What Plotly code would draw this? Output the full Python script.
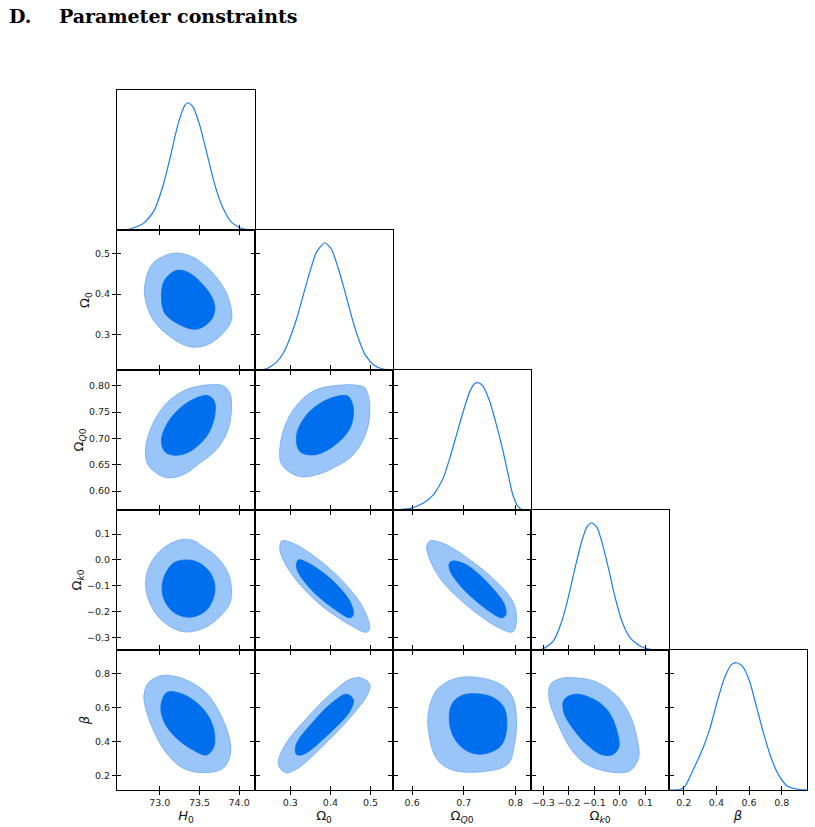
import plotly.graph_objects as go

W, H = 815, 827

# ---------------- parameters / axes ----------------
params = ["H0", "Om0", "OmQ0", "Omk0", "beta"]
axis_titles = {
    "H0": "<i>H</i><sub>0</sub>",
    "Om0": "Ω<sub>0</sub>",
    "OmQ0": "Ω<sub><i>Q</i>0</sub>",
    "Omk0": "Ω<sub><i>k</i>0</sub>",
    "beta": "<i>β</i>",
}
x_ranges = {"H0": [72.46, 74.2], "Om0": [0.212, 0.556], "OmQ0": [0.563, 0.830],
            "Omk0": [-0.348, 0.193], "beta": [0.110, 0.955]}
y_ranges = {"Om0": [0.214, 0.557], "OmQ0": [0.564, 0.830],
            "Omk0": [-0.3475, 0.1927], "beta": [0.116, 0.939]}

x_tickvals = {"H0": [73.0, 73.5, 74.0], "Om0": [0.3, 0.4, 0.5], "OmQ0": [0.6, 0.7, 0.8],
              "Omk0": [-0.3, -0.2, -0.1, 0.0, 0.1], "beta": [0.2, 0.4, 0.6, 0.8]}
x_ticktext = {"H0": ["73.0", "73.5", "74.0"], "Om0": ["0.3", "0.4", "0.5"],
              "OmQ0": ["0.6", "0.7", "0.8"],
              "Omk0": ["\u22120.3", "\u22120.2", "\u22120.1", "0.0", "0.1"],
              "beta": ["0.2", "0.4", "0.6", "0.8"]}
y_tickvals = {"Om0": [0.3, 0.4, 0.5], "OmQ0": [0.60, 0.65, 0.70, 0.75, 0.80],
              "Omk0": [-0.3, -0.2, -0.1, 0.0, 0.1], "beta": [0.2, 0.4, 0.6, 0.8]}
y_ticktext = {"Om0": ["0.3", "0.4", "0.5"], "OmQ0": ["0.60", "0.65", "0.70", "0.75", "0.80"],
              "Omk0": ["\u22120.3", "\u22120.2", "\u22120.1", "0.0", "0.1"],
              "beta": ["0.2", "0.4", "0.6", "0.8"]}

# ---------------- 1D marginals (normalised to peak 1) ----------------
H0_grid = [72.458, 72.626, 72.794, 72.920, 73.042, 73.147, 73.231, 73.315, 73.357, 73.420,
           73.504, 73.589, 73.694, 73.798, 73.904, 74.030, 74.177]
H0_pdf = [0, 0.008, 0.052, 0.144, 0.352, 0.614, 0.836, 0.979, 1.0, 0.966, 0.822, 0.614,
          0.352, 0.170, 0.060, 0.012, 0.001]
Om0_grid = [0.212, 0.241, 0.266, 0.283, 0.299, 0.316, 0.332, 0.349, 0.366, 0.386, 0.403,
            0.419, 0.436, 0.453, 0.469, 0.486, 0.507, 0.531, 0.556]
Om0_pdf = [0.001, 0.010, 0.062, 0.135, 0.25, 0.405, 0.585, 0.775, 0.93, 1, 0.947, 0.803, 0.618,
           0.418, 0.255, 0.123, 0.042, 0.008, 0.001]
OmQ0_grid = [0.563, 0.596, 0.621, 0.641, 0.660, 0.673, 0.686, 0.699, 0.712, 0.721, 0.728,
             0.737, 0.750, 0.763, 0.776, 0.786, 0.795, 0.805, 0.815, 0.831]
OmQ0_pdf = [0, 0.013, 0.053, 0.118, 0.25, 0.408, 0.592, 0.776, 0.934, 0.992, 1, 0.974,
            0.855, 0.671, 0.461, 0.276, 0.118, 0.026, 0, 0]
Omk0_grid = [-0.345, -0.300, -0.260, -0.227, -0.202, -0.175, -0.149, -0.129, -0.110, -0.090,
             -0.071, -0.045, -0.018, 0.008, 0.040, 0.080, 0.119, 0.193]
Omk0_pdf = [0, 0.010, 0.071, 0.228, 0.411, 0.647, 0.856, 0.966, 1, 0.966, 0.856, 0.647,
            0.411, 0.228, 0.097, 0.031, 0.005, 0]
beta_grid = [0.110, 0.176, 0.209, 0.264, 0.319, 0.362, 0.406, 0.450, 0.494, 0.523, 0.559,
             0.603, 0.647, 0.691, 0.735, 0.779, 0.834, 0.900, 0.955]
beta_pdf = [0, 0.003, 0.031, 0.175, 0.332, 0.490, 0.699, 0.882, 0.987, 1, 0.974, 0.856,
            0.647, 0.437, 0.254, 0.123, 0.031, 0.005, 0]

# ---------------- 2D contours (68% inner, 95% outer), (x, y) in data units ----------------
H0_Om0_outer = [(73.168, 0.500), (72.916, 0.476), (72.823, 0.435), (72.811, 0.394), (72.916, 0.337),
                (73.126, 0.296), (73.378, 0.271), (73.589, 0.275), (73.798, 0.304), (73.904, 0.337),
                (73.883, 0.378), (73.798, 0.418), (73.589, 0.467), (73.378, 0.494)]
H0_Om0_inner = [(73.211, 0.458), (73.063, 0.435), (73.021, 0.398), (73.063, 0.353), (73.252, 0.325),
                (73.463, 0.314), (73.631, 0.333), (73.694, 0.361), (73.652, 0.394), (73.504, 0.431),
                (73.357, 0.453)]
H0_OmQ0_outer = [(73.631, 0.802), (73.337, 0.793), (73.084, 0.767), (72.916, 0.729), (72.823, 0.685),
                 (72.840, 0.653), (72.958, 0.634), (73.105, 0.625), (73.294, 0.631), (73.504, 0.653),
                 (73.715, 0.679), (73.861, 0.717), (73.904, 0.761), (73.883, 0.786), (73.798, 0.800)]
H0_OmQ0_inner = [(73.546, 0.781), (73.337, 0.767), (73.126, 0.736), (73.021, 0.698), (73.063, 0.675),
                 (73.189, 0.668), (73.378, 0.675), (73.589, 0.704), (73.681, 0.736), (73.694, 0.767),
                 (73.631, 0.780)]
H0_Omk0_outer = [(73.252, 0.077), (73.042, 0.045), (72.874, -0.019), (72.820, -0.090), (72.874, -0.167),
                 (73.042, -0.238), (73.294, -0.277), (73.546, -0.264), (73.757, -0.219), (73.883, -0.167),
                 (73.904, -0.116), (73.861, -0.051), (73.715, 0.013), (73.546, 0.051), (73.420, 0.075)]
H0_Omk0_inner = [(73.337, 0.000), (73.168, -0.013), (73.042, -0.077), (73.042, -0.142), (73.168, -0.200),
                 (73.378, -0.221), (73.589, -0.193), (73.694, -0.122), (73.652, -0.058), (73.504, -0.013)]
H0_beta_outer = [(73.000, 0.786), (72.852, 0.744), (72.798, 0.665), (72.840, 0.567), (72.937, 0.449),
                 (73.084, 0.332), (73.294, 0.244), (73.546, 0.218), (73.798, 0.244), (73.892, 0.332),
                 (73.861, 0.449), (73.757, 0.567), (73.589, 0.685), (73.378, 0.753), (73.168, 0.786)]
H0_beta_inner = [(73.084, 0.688), (73.013, 0.606), (73.063, 0.508), (73.211, 0.420), (73.420, 0.351),
                 (73.589, 0.322), (73.681, 0.371), (73.681, 0.469), (73.589, 0.567), (73.420, 0.645),
                 (73.231, 0.688)]
Om0_OmQ0_outer = [(0.440, 0.802), (0.366, 0.793), (0.324, 0.770), (0.291, 0.732), (0.274, 0.682),
                  (0.279, 0.650), (0.320, 0.628), (0.366, 0.631), (0.415, 0.647), (0.457, 0.669),
                  (0.490, 0.713), (0.498, 0.764), (0.486, 0.796), (0.465, 0.801)]
Om0_OmQ0_inner = [(0.424, 0.781), (0.382, 0.770), (0.341, 0.745), (0.316, 0.707), (0.324, 0.675),
                  (0.361, 0.669), (0.407, 0.685), (0.449, 0.720), (0.457, 0.758), (0.444, 0.780)]
Om0_Omk0_outer = [(0.279, 0.073), (0.307, 0.064), (0.366, 0.007), (0.432, -0.084), (0.482, -0.186),
                  (0.498, -0.264), (0.490, -0.279), (0.449, -0.251), (0.366, -0.161), (0.299, -0.045),
                  (0.274, 0.039)]
Om0_Omk0_inner = [(0.320, 0.000), (0.341, -0.009), (0.399, -0.071), (0.449, -0.161), (0.457, -0.212),
                  (0.449, -0.223), (0.407, -0.186), (0.349, -0.109), (0.316, -0.032)]
OmQ0_Omk0_outer = [(0.634, 0.073), (0.660, 0.064), (0.712, 0.000), (0.763, -0.084), (0.795, -0.161),
                   (0.802, -0.225), (0.795, -0.277), (0.770, -0.264), (0.705, -0.174), (0.654, -0.071),
                   (0.631, 0.019), (0.628, 0.051)]
OmQ0_Omk0_inner = [(0.679, -0.004), (0.705, -0.019), (0.750, -0.097), (0.779, -0.174), (0.781, -0.212),
                   (0.773, -0.223), (0.737, -0.180), (0.692, -0.097), (0.673, -0.039), (0.672, -0.013)]
Om0_beta_outer = [(0.475, 0.776), (0.498, 0.738), (0.493, 0.679), (0.449, 0.541), (0.377, 0.365),
                  (0.315, 0.238), (0.288, 0.218), (0.270, 0.267), (0.288, 0.385), (0.342, 0.541),
                  (0.404, 0.688), (0.449, 0.767)]
Om0_beta_inner = [(0.440, 0.679), (0.457, 0.649), (0.449, 0.581), (0.395, 0.444), (0.333, 0.326),
                  (0.315, 0.326), (0.315, 0.385), (0.359, 0.522), (0.404, 0.629)]
OmQ0_beta_outer = [(0.715, 0.781), (0.771, 0.738), (0.795, 0.659), (0.802, 0.522), (0.798, 0.385),
                   (0.785, 0.267), (0.729, 0.222), (0.674, 0.238), (0.646, 0.306), (0.631, 0.482),
                   (0.632, 0.581), (0.646, 0.698), (0.674, 0.761)]
OmQ0_beta_inner = [(0.722, 0.682), (0.757, 0.659), (0.778, 0.600), (0.783, 0.482), (0.774, 0.385),
                   (0.757, 0.345), (0.729, 0.326), (0.701, 0.355), (0.681, 0.424), (0.672, 0.522),
                   (0.677, 0.620), (0.694, 0.669)]
Omk0_beta_outer = [(-0.186, 0.776), (-0.102, 0.757), (-0.018, 0.679), (0.038, 0.561), (0.067, 0.424),
                   (0.074, 0.306), (0.038, 0.228), (-0.046, 0.224), (-0.130, 0.267), (-0.186, 0.345),
                   (-0.242, 0.502), (-0.278, 0.659), (-0.271, 0.738), (-0.228, 0.773)]
Omk0_beta_inner = [(-0.172, 0.679), (-0.102, 0.649), (-0.046, 0.581), (-0.011, 0.463), (-0.004, 0.365),
                   (-0.032, 0.322), (-0.074, 0.326), (-0.130, 0.385), (-0.186, 0.482), (-0.221, 0.581),
                   (-0.217, 0.649)]

marginals = {"H0": (H0_grid, H0_pdf), "Om0": (Om0_grid, Om0_pdf), "OmQ0": (OmQ0_grid, OmQ0_pdf),
             "Omk0": (Omk0_grid, Omk0_pdf), "beta": (beta_grid, beta_pdf)}
contours = {
    ("Om0", "H0"): (H0_Om0_outer, H0_Om0_inner),
    ("OmQ0", "H0"): (H0_OmQ0_outer, H0_OmQ0_inner),
    ("Omk0", "H0"): (H0_Omk0_outer, H0_Omk0_inner),
    ("beta", "H0"): (H0_beta_outer, H0_beta_inner),
    ("OmQ0", "Om0"): (Om0_OmQ0_outer, Om0_OmQ0_inner),
    ("Omk0", "Om0"): (Om0_Omk0_outer, Om0_Omk0_inner),
    ("beta", "Om0"): (Om0_beta_outer, Om0_beta_inner),
    ("Omk0", "OmQ0"): (OmQ0_Omk0_outer, OmQ0_Omk0_inner),
    ("beta", "OmQ0"): (OmQ0_beta_outer, OmQ0_beta_inner),
    ("beta", "Omk0"): (Omk0_beta_outer, Omk0_beta_inner),
}

# ---------------- styling ----------------
INNER = "#006FED"
OUTER = "#99C5F8"
OUTER_EDGE = "#6FA9F2"
LINE1D = "#1a7cf0"
FONT = "DejaVu Sans"
TICKFONT = dict(family=FONT, size=9.5, color="#222222")
TITLEFONT = dict(family=FONT, size=13, color="#111111")

X0, Y0, PW, PH = 117, 90, 138, 140

fig = go.Figure()
layout = {}
n_axes = [0]


def new_id():
    n_axes[0] += 1
    return n_axes[0]


def ax_name(kind, k):
    return f"{kind}axis" if k == 1 else f"{kind}axis{k}"


def ax_ref(kind, k):
    return kind if k == 1 else f"{kind}{k}"


base_common = dict(showgrid=False, zeroline=False, showline=True, linecolor="black",
                   linewidth=1, tickcolor="black", tickwidth=1, tickfont=TICKFONT)

for r in range(5):
    for c in range(r + 1):
        k = new_id()
        xref, yref = ax_ref("x", k), ax_ref("y", k)
        xdom = [(X0 + PW * c) / W, (X0 + PW * (c + 1)) / W]
        ydom = [1 - (Y0 + PH * (r + 1)) / H, 1 - (Y0 + PH * r) / H]
        px = params[c]
        py = params[r]
        xa = dict(base_common, domain=xdom, range=x_ranges[px], anchor=yref,
                  tickmode="array", tickvals=x_tickvals[px], ticktext=x_ticktext[px],
                  ticks="outside", ticklen=4, showticklabels=(r == 4))
        if r == 4:
            xa["title"] = dict(text=axis_titles[px], font=TITLEFONT, standoff=3)
        if r == c:
            xa["mirror"] = True
            ya = dict(base_common, domain=ydom, range=[0, 1.1], anchor=xref,
                      ticks="", showticklabels=False, mirror=True)
            gx, gy = marginals[px]
            fig.add_trace(go.Scatter(x=gx, y=gy, mode="lines",
                                     line=dict(color=LINE1D, width=1.2, shape="spline", smoothing=0.6),
                                     xaxis=xref, yaxis=yref, hoverinfo="skip", showlegend=False))
        else:
            xa["mirror"] = "allticks"
            ya = dict(base_common, domain=ydom, range=y_ranges[py], anchor=xref,
                      tickmode="array", tickvals=y_tickvals[py], ticktext=y_ticktext[py],
                      ticks="outside", ticklen=4, showticklabels=(c == 0), mirror="allticks")
            if c == 0:
                ya["title"] = dict(text=axis_titles[py], font=TITLEFONT, standoff=2)
            outer, inner = contours[(py, px)]
            for pts, fillc, edge in ((outer, OUTER, OUTER_EDGE), (inner, INNER, INNER)):
                xs = [p[0] for p in pts] + [pts[0][0]]
                ys = [p[1] for p in pts] + [pts[0][1]]
                fig.add_trace(go.Scatter(x=xs, y=ys, mode="lines", fill="toself", fillcolor=fillc,
                                         line=dict(color=edge, width=0.8, shape="spline", smoothing=1.0),
                                         xaxis=xref, yaxis=yref, hoverinfo="skip", showlegend=False))
        layout[ax_name("x", k)] = xa
        layout[ax_name("y", k)] = ya

        # overlay axes giving the inward half of the crossing ("inout") ticks
        overlay_common = dict(showgrid=False, zeroline=False, showline=False,
                              showticklabels=False, ticks="inside", ticklen=4,
                              tickcolor="black", tickwidth=1, tickmode="array")
        if r == 4:
            ko = new_id()
            layout[ax_name("x", ko)] = dict(overlay_common, overlaying=xref, anchor=yref,
                                            side="bottom", range=x_ranges[px],
                                            tickvals=x_tickvals[px])
            fig.add_trace(go.Scatter(x=[None], y=[None], xaxis=ax_ref("x", ko), yaxis=yref,
                                     showlegend=False, hoverinfo="skip"))
        if r != c and c == 0:
            ko = new_id()
            layout[ax_name("y", ko)] = dict(overlay_common, overlaying=yref, anchor=xref,
                                            side="left", range=y_ranges[py],
                                            tickvals=y_tickvals[py])
            fig.add_trace(go.Scatter(x=[None], y=[None], xaxis=xref, yaxis=ax_ref("y", ko),
                                     showlegend=False, hoverinfo="skip"))
        if r != c and c == r - 1:
            ko = new_id()
            layout[ax_name("y", ko)] = dict(overlay_common, overlaying=yref, anchor=xref,
                                            side="right", range=y_ranges[py],
                                            tickvals=y_tickvals[py])
            fig.add_trace(go.Scatter(x=[None], y=[None], xaxis=xref, yaxis=ax_ref("y", ko),
                                     showlegend=False, hoverinfo="skip"))

layout.update(
    width=W, height=H,
    margin=dict(l=0, r=0, t=0, b=0),
    paper_bgcolor="white", plot_bgcolor="white",
    showlegend=False,
    annotations=[
        dict(text="<b>D.</b>", x=7 / W, y=1 - 16 / H, xref="paper", yref="paper",
             xanchor="left", yanchor="middle", showarrow=False,
             font=dict(family="DejaVu Serif", size=19, color="black")),
        dict(text="<b>Parameter constraints</b>", x=57 / W, y=1 - 16 / H, xref="paper",
             yref="paper", xanchor="left", yanchor="middle", showarrow=False,
             font=dict(family="DejaVu Serif", size=19, color="black")),
    ],
)
fig.update_layout(layout)
fig.write_html("out.html")
